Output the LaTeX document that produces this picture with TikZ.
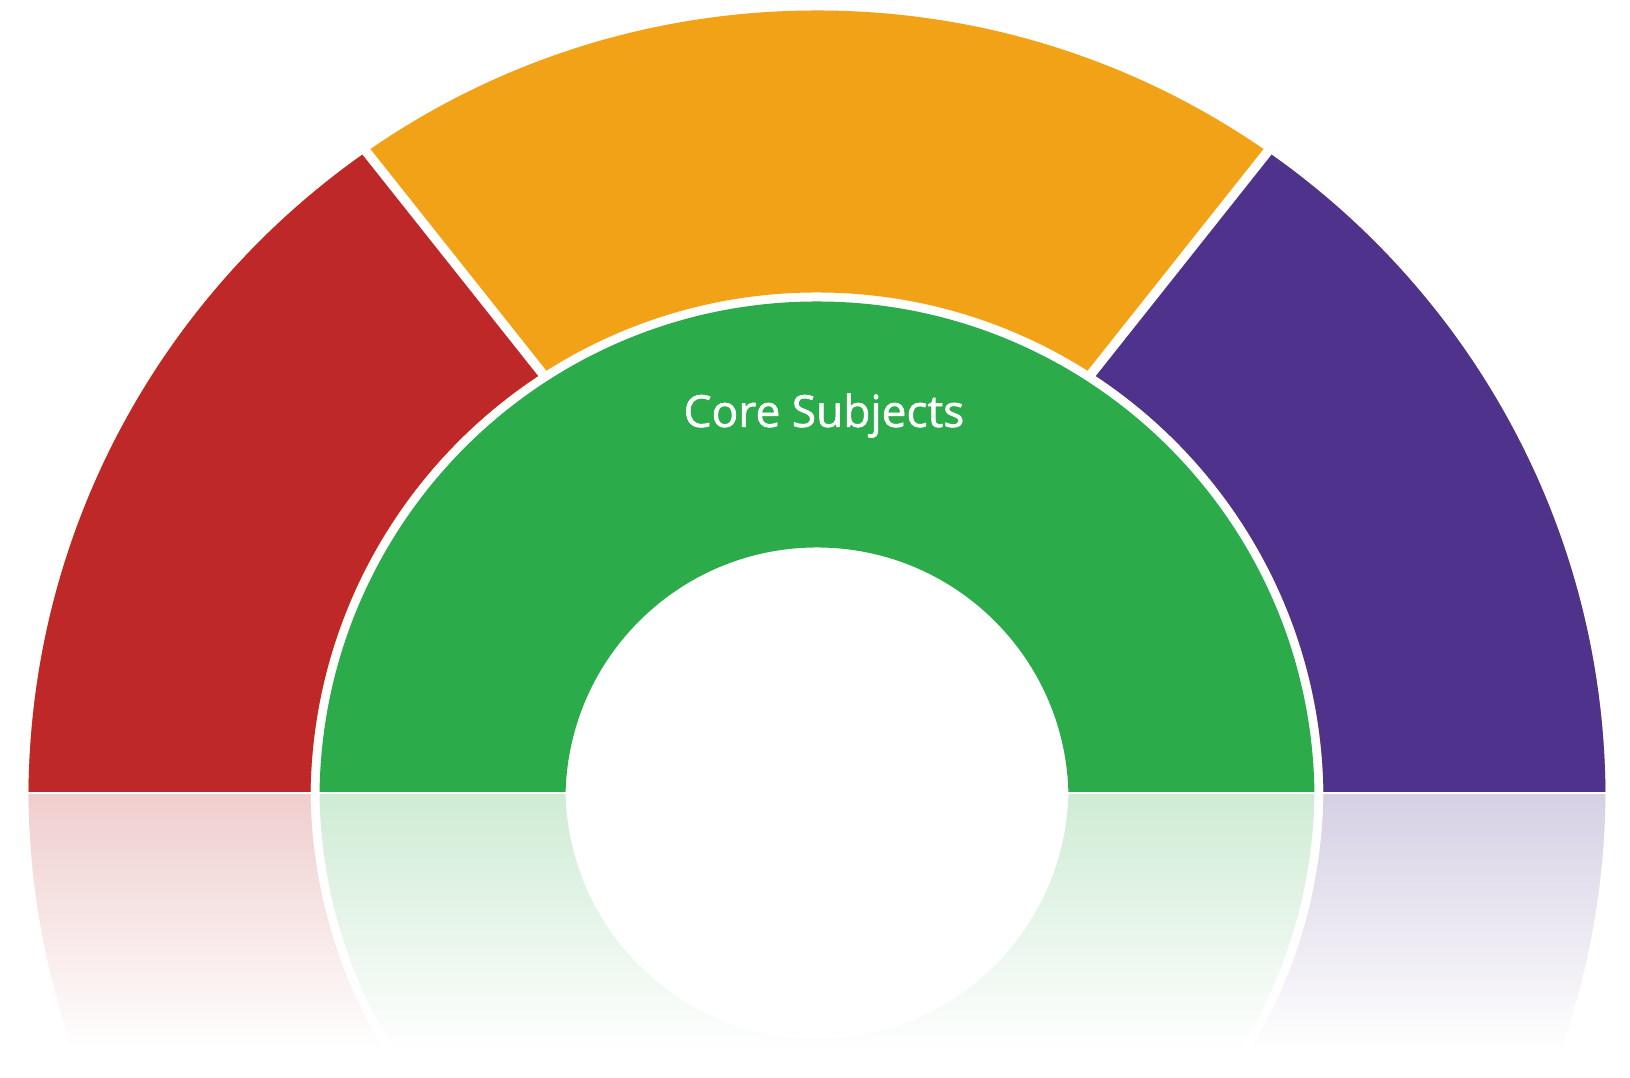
\documentclass[tikz,border=0pt]{standalone}
\usepackage{fontspec}
\setmainfont{Open Sans}
\usetikzlibrary{fadings}

\definecolor{subjRed}{RGB}{190,40,40}
\definecolor{subjOrange}{RGB}{242,162,22}
\definecolor{subjGreen}{RGB}{44,171,74}
\definecolor{subjPurple}{RGB}{78,50,139}

\tikzfading[name=mirror fade, top color=transparent!100, bottom color=transparent!0]

% the half ring, drawn once as it is and once as its reflection
\newcommand{\subjectring}{%
	\begin{scope}
		\clip (0:7.885) arc (0:180:7.885) -- (180:5.065) arc (180:0:5.065) -- cycle;
		\fill [subjOrange] (-9,-0.2) rectangle (9,9);
		\fill [subjRed] (-9,-0.2) -- (-9,9) -- (-6.52,9) -- (0.80,-0.2) -- cycle;
		\fill [subjPurple] (9,-0.2) -- (9,9) -- (6.52,9) -- (-0.80,-0.2) -- cycle;
	\end{scope}
	\coordinate (sep_left_in) at (-2.71,4.21);
	\coordinate (sep_left_out) at (-4.56,6.54);
	\coordinate (sep_right_in) at (2.71,4.21);
	\coordinate (sep_right_out) at (4.56,6.54);
	\draw [gap line] (sep_left_in) -- (sep_left_out);
	\draw [gap line] (sep_right_in) -- (sep_right_out);
	\fill [subjGreen] (0:4.975) arc (0:180:4.975) -- (180:2.515) arc (180:0:2.515) -- cycle;
}

\begin{document}
\begin{tikzpicture}[gap line/.style={white, line width=0.95mm},
	ring label/.style={text=white, font=\fontsize{12.6}{15}\selectfont\addfontfeatures{FakeBold=1.2}}]
	
	\useasboundingbox (-8.17,-2.79) rectangle (8.13,7.99);
	
	\begin{scope}
		\clip (-9,0.073) rectangle (9,9);
		\subjectring
	\end{scope}
	
	\node [ring label, anchor=base] at (0.07,3.72) (core){Core Subjects};
	
	% reflection
	\begin{scope}[yshift=1.14mm, yscale=-1]
		\colorlet{subjRed}{subjRed!23!white}
		\colorlet{subjOrange}{subjOrange!23!white}
		\colorlet{subjGreen}{subjGreen!23!white}
		\colorlet{subjPurple}{subjPurple!23!white}
		\clip (-9,0.073) rectangle (9,2.62);
		\subjectring
	\end{scope}
	\fill [white, path fading=mirror fade] (-9,0.045) rectangle (9,-2.51);
	
\end{tikzpicture}
\end{document}
